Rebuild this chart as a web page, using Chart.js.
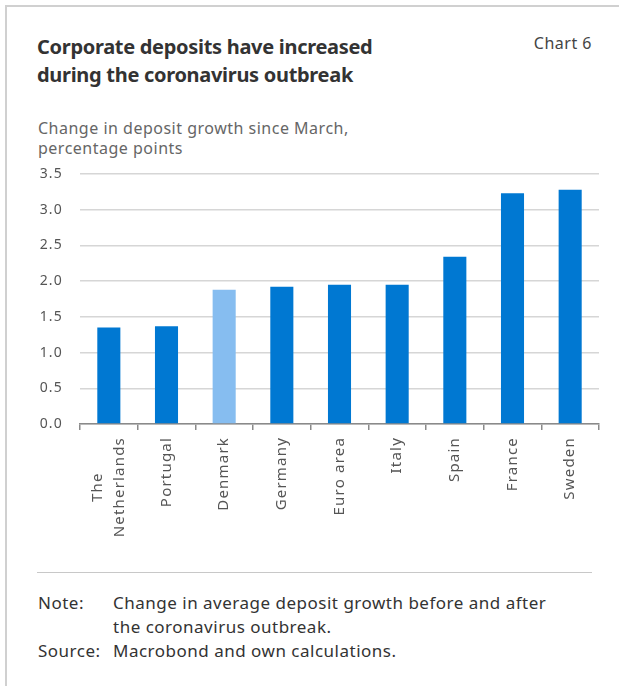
<!DOCTYPE html>
<html>
<head>
<meta charset="utf-8">
<script src="https://cdn.jsdelivr.net/npm/chart.js@4"></script>
<style>
  html, body { margin: 0; padding: 0; background: #fff; }
  body { width: 619px; height: 686px; position: relative; overflow: hidden; font-family: "Noto Sans", sans-serif; }
  .frame { position: absolute; left: 5px; top: 5px; right: -10px; bottom: -10px; border-left: 2px solid #d0d0d0; border-top: 2px solid #d0d0d0; }
  .title { position: absolute; left: 37px; top: 33px; font-size: 20px; line-height: 28px; font-weight: bold; color: #333; letter-spacing: -0.3px; }
  .chartno { position: absolute; right: 27px; top: 33px; font-size: 16px; line-height: 20px; color: #444; letter-spacing: 0.5px; }
  .subtitle { position: absolute; left: 38px; top: 118px; font-size: 16px; line-height: 20px; color: #666; letter-spacing: 0.5px; }
  .chart-box { position: absolute; left: 30px; top: 160px; width: 580px; height: 390px; }
  .rule { position: absolute; left: 37px; top: 572px; width: 555px; height: 0; border-top: 1px solid #c8c8c8; }
  .notes { position: absolute; left: 38px; top: 591px; font-size: 17px; line-height: 24px; color: #333; letter-spacing: 0.5px; display: grid; grid-template-columns: 75px 460px; }
</style>
</head>
<body>
<div class="frame"></div>
<div class="title">Corporate deposits have increased<br>during the coronavirus outbreak</div>
<div class="chartno">Chart 6</div>
<div class="subtitle">Change in deposit growth since March,<br>percentage points</div>
<div class="chart-box"><canvas id="chart"></canvas></div>
<div class="rule"></div>
<div class="notes">
  <div>Note:</div><div>Change in average deposit growth before and after<br>the coronavirus outbreak.</div>
  <div>Source:</div><div>Macrobond and own calculations.</div>
</div>
<script>
  // ---- Data ---------------------------------------------------------------
  const countries = [['The', 'Netherlands'], ['Portugal'], ['Denmark'], ['Germany'], ['Euro area'],
                     ['Italy'], ['Spain'], ['France'], ['Sweden']];
  const depositChange = [1.35, 1.37, 1.88, 1.92, 1.95, 1.95, 2.34, 3.23, 3.28];
  const highlightIndex = 2; // Denmark
  const yTicks = [0, 0.5, 1.0, 1.5, 2.0, 2.5, 3.0, 3.5];

  const DARK = '#0078d2';
  const LIGHT = '#86bdf0';
  const barColors = depositChange.map(function (v, i) { return i === highlightIndex ? LIGHT : DARK; });

  // Chart.js doesn't expose letter spacing, so set it on the context
  const spacing = {
    id: 'spacing',
    beforeUpdate: function (chart) { chart.ctx.letterSpacing = '1.2px'; },
    beforeDraw: function (chart) { chart.ctx.letterSpacing = '1.2px'; }
  };

  // Rotated category labels, multi-line blocks centred on each other
  const xLabels = {
    id: 'xLabels',
    afterDraw: function (chart) {
      const ctx = chart.ctx;
      const xs = chart.scales.x;
      const top = xs.top + 13;
      const lh = 21.5;
      ctx.save();
      ctx.letterSpacing = '1.2px';
      ctx.font = '15px "Noto Sans"';
      ctx.fillStyle = '#555';
      ctx.textBaseline = 'middle';
      ctx.textAlign = 'center';
      countries.forEach(function (lines, i) {
        const px = xs.getPixelForValue(i);
        const widths = lines.map(function (t) { return ctx.measureText(t).width; });
        const maxW = Math.max.apply(null, widths);
        lines.forEach(function (t, j) {
          const x = px + (j - (lines.length - 1) / 2) * lh;
          ctx.save();
          ctx.translate(x, top + maxW / 2);
          ctx.rotate(-Math.PI / 2);
          ctx.fillText(t, 0, 0);
          ctx.restore();
        });
      });
      ctx.restore();
    }
  };

  new Chart(document.getElementById('chart'), {
    type: 'bar',
    data: {
      labels: countries.map(function (l) { return l.join(' '); }),
      datasets: [{
        data: depositChange,
        backgroundColor: barColors,
        barPercentage: 0.4,
        categoryPercentage: 1.0
      }]
    },
    options: {
      responsive: true,
      maintainAspectRatio: false,
      animation: false,
      layout: { padding: { top: 14, right: 11, left: 0, bottom: 0 } },
      plugins: { legend: { display: false }, tooltip: { enabled: false } },
      scales: {
        x: {
          grid: { drawOnChartArea: false, drawTicks: true, tickLength: 6, color: '#8a8a8a', lineWidth: 1.5 },
          border: { color: '#8a8a8a', width: 1.5 },
          ticks: { display: false },
          afterFit: function (scale) { scale.height = 126; }
        },
        y: {
          min: 0,
          max: 3.5,
          afterBuildTicks: function (scale) { scale.ticks = yTicks.map(function (v) { return { value: v }; }); },
          grid: { color: '#d6d6d6', lineWidth: 1.5, drawTicks: false },
          border: { display: false },
          ticks: {
            padding: 17,
            color: '#555',
            font: { family: 'Noto Sans', size: 14 },
            callback: function (v) { return Number(v).toFixed(1); }
          },
          afterFit: function (scale) {
            scale.width = 50;
            // tick padding would otherwise push the plot area down
            scale.paddingTop = 0;
            scale.paddingBottom = 0;
          }
        }
      }
    },
    plugins: [spacing, xLabels]
  });
</script>
</body>
</html>
